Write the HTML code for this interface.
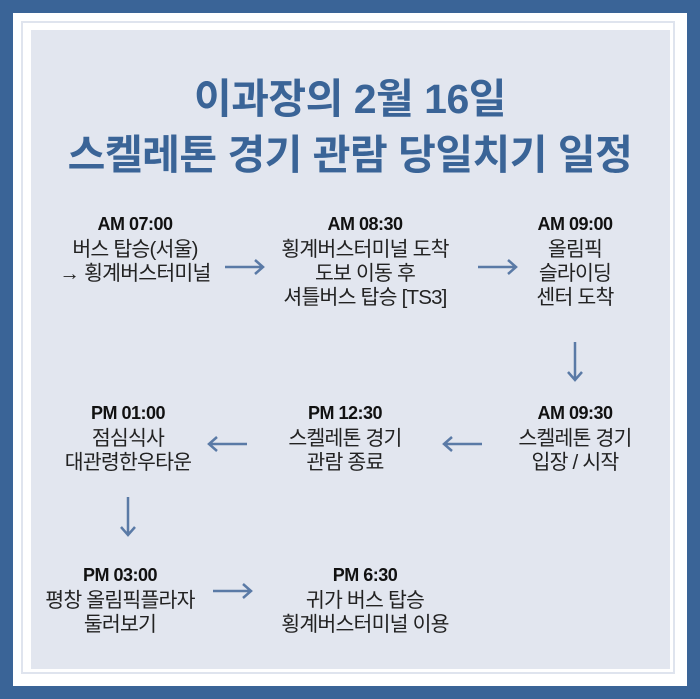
<!DOCTYPE html>
<html><head><meta charset="utf-8"><style>
body{margin:0;width:700px;height:699px;background:#3a6497;position:relative;overflow:hidden;font-family:"Liberation Sans","Noto Sans CJK KR",sans-serif}
.w{position:absolute;left:13px;top:13px;width:674px;height:673px;background:#fff}
.l{position:absolute;left:21px;top:21px;width:654px;height:653px;border:2px solid #dfe4ee;box-sizing:border-box}
.f{position:absolute;left:31px;top:30px;width:639px;height:639px;background:#e2e6ef}
.t{position:absolute;left:0;width:700px;text-align:center;color:#3a6497;font-weight:bold;font-size:41px;letter-spacing:-0.5px;line-height:46px}
.n{position:absolute;width:240px;text-align:center;color:#222;font-size:20.5px;line-height:24px;letter-spacing:-0.8px}
.n b{display:block;font-size:18px;color:#111;letter-spacing:-0.5px;margin-bottom:2px}
svg{position:absolute;left:0;top:0}
</style></head><body>
<div class="w"></div><div class="l"></div><div class="f"></div>
<div class="t" style="top:76px">이과장의 2월 16일</div>
<div class="t" style="top:132px">스켈레톤 경기 관람 당일치기 일정</div>
<div class="n" style="left:15px;top:212px"><b>AM 07:00</b>버스 탑승(서울)<br>→ 횡계버스터미널</div>
<div class="n" style="left:245px;top:212px"><b>AM 08:30</b>횡계버스터미널 도착<br>도보 이동 후<br>셔틀버스 탑승 [TS3]</div>
<div class="n" style="left:455px;top:212px"><b>AM 09:00</b>올림픽<br>슬라이딩<br>센터 도착</div>
<div class="n" style="left:455px;top:401px"><b>AM 09:30</b>스켈레톤 경기<br>입장 / 시작</div>
<div class="n" style="left:225px;top:401px"><b>PM 12:30</b>스켈레톤 경기<br>관람 종료</div>
<div class="n" style="left:8px;top:401px"><b>PM 01:00</b>점심식사<br>대관령한우타운</div>
<div class="n" style="left:0px;top:563px"><b>PM 03:00</b>평창 올림픽플라자<br>둘러보기</div>
<div class="n" style="left:245px;top:563px"><b>PM 6:30</b>귀가 버스 탑승<br>횡계버스터미널 이용</div>
<svg width="700" height="699" fill="none" stroke="#5a7aa6" stroke-width="2.5">
<path d="M225 267H263M255 260L263 267L255 274"/>
<path d="M478 267H516M508 260L516 267L508 274"/>
<path d="M575 342V380M568 372L575 380L582 372"/>
<path d="M482 444H444M452 437L444 444L452 451"/>
<path d="M247 444H209M217 437L209 444L217 451"/>
<path d="M128 497V535M121 527L128 535L135 527"/>
<path d="M213 591H251M243 584L251 591L243 598"/>
</svg>
</body></html>
